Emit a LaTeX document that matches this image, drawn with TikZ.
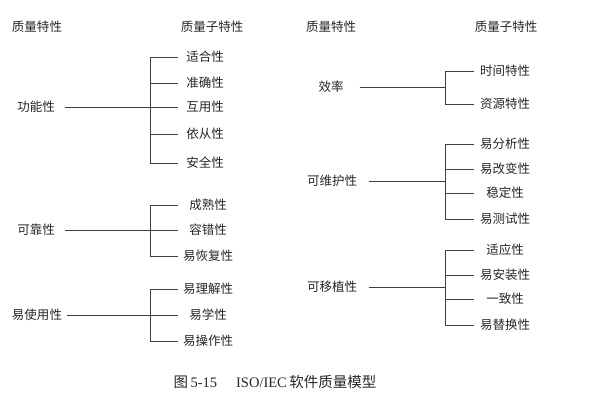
\documentclass[tikz,border=0pt]{standalone}
\usepackage{fontspec}
\setmainfont{Liberation Serif}
\newfontfamily\cjk{Noto Sans CJK SC}
\begin{document}
\begin{tikzpicture}[x=1pt,y=-1pt,
  txt/.style={font=\cjk\fontsize{12.5}{14}\selectfont, inner sep=0pt, text=black!85},
  ln/.style={draw=black!75, line width=0.9pt},
  captxt/.style={font=\fontsize{14.5}{16}\selectfont, inner sep=0pt, text=black!85}]
\useasboundingbox (0,0) rectangle (607,400);
% headers
\node[txt] (h1) at (37,27) {质量特性};
\node[txt] (h2) at (212,27) {质量子特性};
\node[txt] (h3) at (331,27) {质量特性};
\node[txt] (h4) at (506,27) {质量子特性};
% group A
\node[txt] (gA) at (36,107) {功能性};
\node[txt] (a1) at (205,57) {适合性};
\node[txt] (a2) at (205,83) {准确性};
\node[txt] (a3) at (205,107) {互用性};
\node[txt] (a4) at (205,134) {依从性};
\node[txt] (a5) at (205,163) {安全性};
\coordinate (aV) at (150,0);
\coordinate (aE) at (178,0);
\draw[ln] ([xshift=10pt]gA.east) -- (gA.east -| aE);
\draw[ln] (aE |- a1) -- (aV |- a1) -- (aV |- a5) -- (aE |- a5);
\foreach \c in {a2,a4} \draw[ln] (aV |- \c) -- (aE |- \c);
% group B
\node[txt] (gB) at (36,230) {可靠性};
\node[txt] (b1) at (208,205) {成熟性};
\node[txt] (b2) at (208,230) {容错性};
\node[txt] (b3) at (208,256) {易恢复性};
\draw[ln] ([xshift=10pt]gB.east) -- (gB.east -| aE);
\draw[ln] (aE |- b1) -- (aV |- b1) -- (aV |- b3) -- (aE |- b3);
% group C
\node[txt] (gC) at (37,315) {易使用性};
\node[txt] (c1) at (208,289) {易理解性};
\node[txt] (c2) at (208,315) {易学性};
\node[txt] (c3) at (208,341) {易操作性};
\draw[ln] ([xshift=5pt]gC.east) -- (gC.east -| aE);
\draw[ln] (aE |- c1) -- (aV |- c1) -- (aV |- c3) -- (aE |- c3);
% group D
\coordinate (dV) at (445,0);
\coordinate (dE) at (474,0);
\node[txt] (gD) at (331,87) {效率};
\node[txt] (d1) at (505,71) {时间特性};
\node[txt] (d2) at (505,104) {资源特性};
\draw[ln] ([xshift=16pt]gD.east) -- (gD.east -| dV);
\draw[ln] (dE |- d1) -- (dV |- d1) -- (dV |- d2) -- (dE |- d2);
% group E
\node[txt] (gE) at (332,181) {可维护性};
\node[txt] (e1) at (505,144) {易分析性};
\node[txt] (e2) at (505,169) {易改变性};
\node[txt] (e3) at (505,193) {稳定性};
\node[txt] (e4) at (505,219) {易测试性};
\draw[ln] ([xshift=12pt]gE.east) -- (gE.east -| dV);
\draw[ln] (dE |- e1) -- (dV |- e1) -- (dV |- e4) -- (dE |- e4);
\foreach \c in {e2,e3} \draw[ln] (dV |- \c) -- (dE |- \c);
% group F
\node[txt] (gF) at (332,287) {可移植性};
\node[txt] (f1) at (505,250) {适应性};
\node[txt] (f2) at (505,275) {易安装性};
\node[txt] (f3) at (505,299) {一致性};
\node[txt] (f4) at (505,325) {易替换性};
\draw[ln] ([xshift=12pt]gF.east) -- (gF.east -| dV);
\draw[ln] (dE |- f1) -- (dV |- f1) -- (dV |- f4) -- (dE |- f4);
\foreach \c in {f2,f3} \draw[ln] (dV |- \c) -- (dE |- \c);
% caption
\node[captxt] (caption) at (275,382) {{\cjk\fontsize{14.5}{16}\selectfont 图}\,5-15\hspace{19pt}ISO/IEC\,{\cjk\fontsize{14.5}{16}\selectfont 软件质量模型}};
\end{tikzpicture}
\end{document}
